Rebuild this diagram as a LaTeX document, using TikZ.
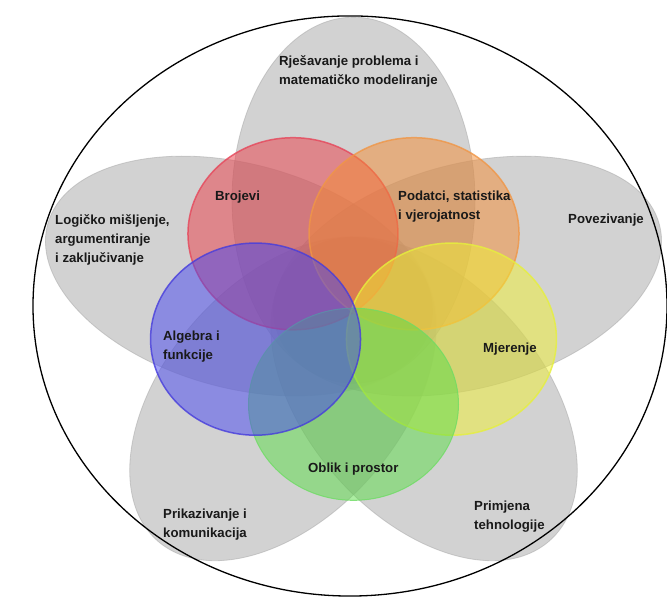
\documentclass[tikz,border=0pt]{standalone}
\usepackage{fontspec}
\setmainfont{Liberation Sans}
\definecolor{petalgray}{RGB}{150,150,150}
\definecolor{cred}{RGB}{235,60,70}
\definecolor{credb}{RGB}{230,70,90}
\definecolor{corange}{RGB}{245,140,50}
\definecolor{corangeb}{RGB}{240,150,70}
\definecolor{cyellow}{RGB}{240,240,50}
\definecolor{cyellowb}{RGB}{230,240,60}
\definecolor{cgreen}{RGB}{90,220,70}
\definecolor{cgreenb}{RGB}{110,220,100}
\definecolor{cblue}{RGB}{70,70,240}
\definecolor{cblueb}{RGB}{70,60,220}
\definecolor{txt}{RGB}{25,25,25}
\begin{document}
\begin{tikzpicture}[x=1pt,y=1pt,
  petal/.style={fill=petalgray, fill opacity=0.42, draw=gray!70, draw opacity=0.5, line width=0.8},
  circ/.style={fill opacity=0.5, draw opacity=0.8, line width=1.5},
  lbl/.style={font=\bfseries\fontsize{13.2}{19}\selectfont, text=txt, inner sep=0, align=left, anchor=west}]
\useasboundingbox (0,0) rectangle (667,-600);
\fill[white] (0,0) rectangle (667,-600);
\begin{scope}[shift={(353.5,-310)}, yscale=0.915]
  \foreach \a in {90,18,-54,-126,162}
    \draw[petal, rotate=\a] (120,0) ellipse [x radius=200, y radius=121.5];
  \draw[circ, fill=cred, draw=credb] (126:103) circle [radius=105];
  \draw[circ, fill=corange, draw=corangeb] (54:103) circle [radius=105];
  \draw[circ, fill=cyellow, draw=cyellowb] (-18:103) circle [radius=105];
  \draw[circ, fill=cgreen, draw=cgreenb, line width=1] (-90:103) circle [radius=105];
  \draw[circ, fill=cblue, draw=cblueb] (198:103) circle [radius=105];
  \draw[line width=1.3] (-3.5,4.4) circle [radius=317];
\end{scope}
\node[lbl] (rjes) at (279,-71) {Rješavanje problema i\\matematičko modeliranje};
\node[lbl] (logic) at (55,-239.5) {Logičko mišljenje,\\argumentiranje\\i zaključivanje};
\node[lbl] (broj) at (215,-197) {Brojevi};
\node[lbl] (podat) at (398,-207) {Podatci, statistika\\i vjerojatnost};
\node[lbl] (povez) at (568,-220) {Povezivanje};
\node[lbl] (alg) at (163,-347) {Algebra i\\funkcije};
\node[lbl] (mjer) at (483,-349) {Mjerenje};
\node[lbl] (oblik) at (308,-469) {Oblik i prostor};
\node[lbl] (prik) at (163,-524.5) {Prikazivanje i\\komunikacija};
\node[lbl] (prim) at (474,-517) {Primjena\\tehnologije};
\end{tikzpicture}
\end{document}
